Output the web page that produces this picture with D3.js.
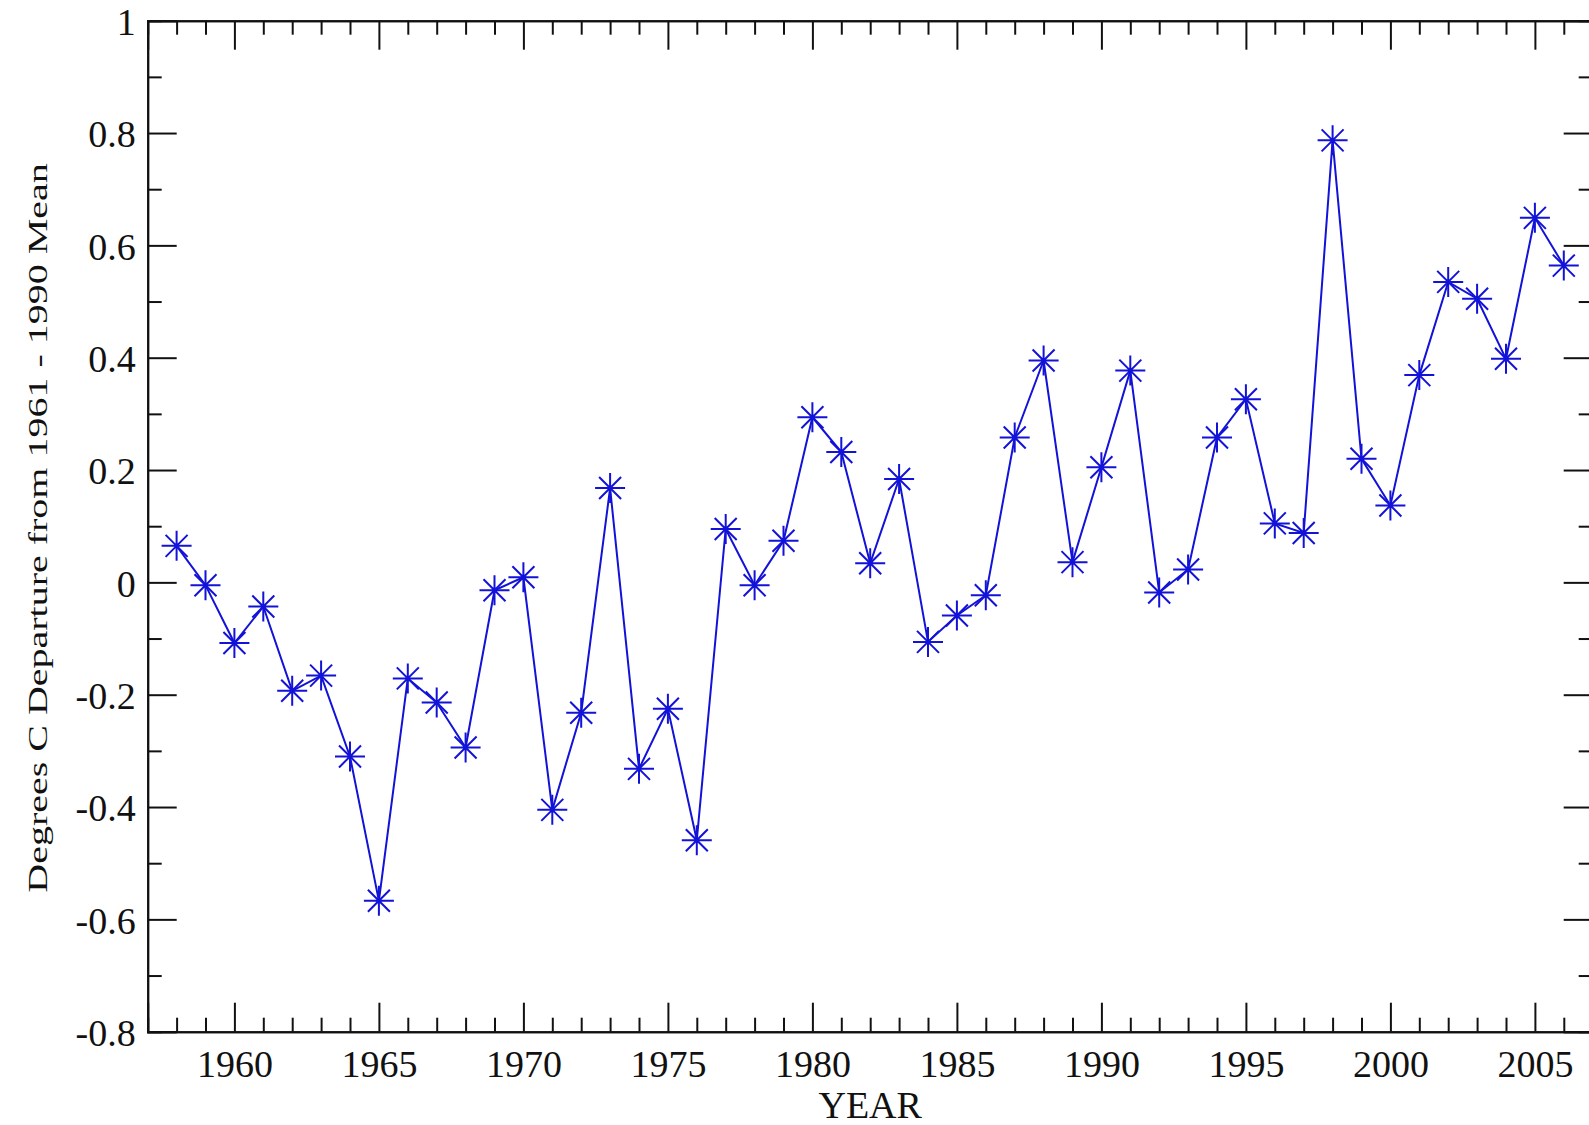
<!DOCTYPE html>
<html>
<head>
<meta charset="utf-8">
<script src="https://cdn.jsdelivr.net/npm/d3@7"></script>
<style>
  body { margin: 0; background: #fff; }
  text { font-family: "Liberation Serif", "Times New Roman", serif; fill: #111; }
</style>
</head>
<body>
<svg id="chart"></svg>
<script>
// chart size and plot box
var width = 1589;
var height = 1125;
var padding = { top: 20.7, right: -3.7, bottom: 93.3, left: 147.7 };

// data: annual temperature departure (deg C) from the 1961-1990 mean
var years = [1958, 1959, 1960, 1961, 1962, 1963, 1964, 1965, 1966, 1967,
             1968, 1969, 1970, 1971, 1972, 1973, 1974, 1975, 1976, 1977,
             1978, 1979, 1980, 1981, 1982, 1983, 1984, 1985, 1986, 1987,
             1988, 1989, 1990, 1991, 1992, 1993, 1994, 1995, 1996, 1997,
             1998, 1999, 2000, 2001, 2002, 2003, 2004, 2005, 2006];
var departures = [0.065, -0.005, -0.108, -0.043, -0.193, -0.166, -0.31, -0.567, -0.171, -0.214,
                  -0.294, -0.014, 0.009, -0.405, -0.232, 0.168, -0.332, -0.225, -0.459, 0.095,
                  -0.005, 0.074, 0.294, 0.232, 0.034, 0.184, -0.106, -0.059, -0.023, 0.258,
                  0.395, 0.036, 0.205, 0.377, -0.018, 0.023, 0.258, 0.326, 0.105, 0.088,
                  0.787, 0.22, 0.137, 0.369, 0.535, 0.505, 0.398, 0.649, 0.564];

var xMajor = [1960, 1965, 1970, 1975, 1980, 1985, 1990, 1995, 2000, 2005];
var yMajor = [-0.8, -0.6, -0.4, -0.2, 0, 0.2, 0.4, 0.6, 0.8, 1];
var xTitle = 'YEAR';
var yTitle = 'Degrees C Departure from 1961 - 1990 Mean';

var points = years.map((d, i) => ({ year: d, value: departures[i] }));

var svg = d3.select('#chart')
    .attr('width', width)
    .attr('height', height);

var xScale = d3.scaleLinear()
  .domain([1957, 2007])
  .range([padding.left, width - padding.right]);

var yScale = d3.scaleLinear()
  .domain([-0.8, 1])
  .range([height - padding.bottom, padding.top]);

var xMinor = d3.range(1958, 2007).filter(d => d % 5 != 0);
var yMinor = d3.range(-7, 10, 2).map(d => d / 10);

var big = 29, small = 14;

// bottom axis (ticks point inward)
svg.append('g')
    .attr('class', 'axis')
    .attr('transform', 'translate(0,' + (height - padding.bottom) + ')')
    .call(d3.axisBottom(xScale).tickValues(xMajor).tickSize(-big).tickPadding(18).tickFormat(d3.format('d')));
svg.append('g')
    .attr('class', 'axis')
    .attr('transform', 'translate(0,' + (height - padding.bottom) + ')')
    .call(d3.axisBottom(xScale).tickValues(xMinor).tickSize(-small).tickFormat(''));

// top axis
svg.append('g')
    .attr('class', 'axis')
    .attr('transform', 'translate(0,' + padding.top + ')')
    .call(d3.axisTop(xScale).tickValues(xMajor).tickSize(-big).tickFormat(''));
svg.append('g')
    .attr('class', 'axis')
    .attr('transform', 'translate(0,' + padding.top + ')')
    .call(d3.axisTop(xScale).tickValues(xMinor).tickSize(-small).tickFormat(''));

// left axis, plain hyphen for negatives like the original
svg.append('g')
    .attr('class', 'axis')
    .attr('transform', 'translate(' + padding.left + ',0)')
    .call(d3.axisLeft(yScale).tickValues(yMajor).tickSize(-big).tickPadding(12)
      .tickFormat(d => String(Math.round(d * 10) / 10)));
svg.append('g')
    .attr('class', 'axis')
    .attr('transform', 'translate(' + padding.left + ',0)')
    .call(d3.axisLeft(yScale).tickValues(yMinor).tickSize(-small).tickFormat(''));

// right axis
svg.append('g')
    .attr('class', 'axis')
    .attr('transform', 'translate(' + (width - padding.right) + ',0)')
    .call(d3.axisRight(yScale).tickValues(yMajor).tickSize(-big).tickFormat(''));
svg.append('g')
    .attr('class', 'axis')
    .attr('transform', 'translate(' + (width - padding.right) + ',0)')
    .call(d3.axisRight(yScale).tickValues(yMinor).tickSize(-small).tickFormat(''));

svg.selectAll('.axis path').attr('stroke', '#111').attr('stroke-width', 2);
svg.selectAll('.axis line').attr('stroke', '#111').attr('stroke-width', 2);
svg.selectAll('.axis text')
    .style('font-family', '"Liberation Serif", serif')
    .style('font-size', '38px')
    .attr('fill', '#111');

// the y labels sit a bit lower than the tick
svg.selectAll('.axis text').filter(function() { return this.getAttribute('x') && this.getAttribute('x') < 0; })
    .attr('dy', '0.36em');

// line
var blue = '#1212d8';
svg.append('path')
    .datum(points)
    .attr('fill', 'none')
    .attr('stroke', blue)
    .attr('stroke-width', 2)
    .attr('d', d3.line().x(d => xScale(d.year)).y(d => yScale(d.value)));

// asterisk markers
var r = 15, rd = 11;
var star = 'M' + (-r) + ',0H' + r + 'M0,' + (-r) + 'V' + r +
           'M' + (-rd) + ',' + (-rd) + 'L' + rd + ',' + rd +
           'M' + (-rd) + ',' + rd + 'L' + rd + ',' + (-rd);
svg.selectAll('.marker')
  .data(points)
  .enter()
  .append('path')
    .attr('class', 'marker')
    .attr('transform', d => 'translate(' + xScale(d.year) + ',' + yScale(d.value) + ')')
    .attr('d', star)
    .attr('fill', 'none')
    .attr('stroke', blue)
    .attr('stroke-width', 2);

// axis titles
svg.append('text')
    .attr('x', (padding.left + width - padding.right) / 2)
    .attr('y', 1118)
    .attr('text-anchor', 'middle')
    .style('font-size', '38px')
    .text(xTitle);

svg.append('text')
    .attr('transform', 'translate(47,528) rotate(-90) scale(1,0.68)')
    .attr('text-anchor', 'middle')
    .style('font-size', '40px')
    .text(yTitle);
</script>
</body>
</html>
